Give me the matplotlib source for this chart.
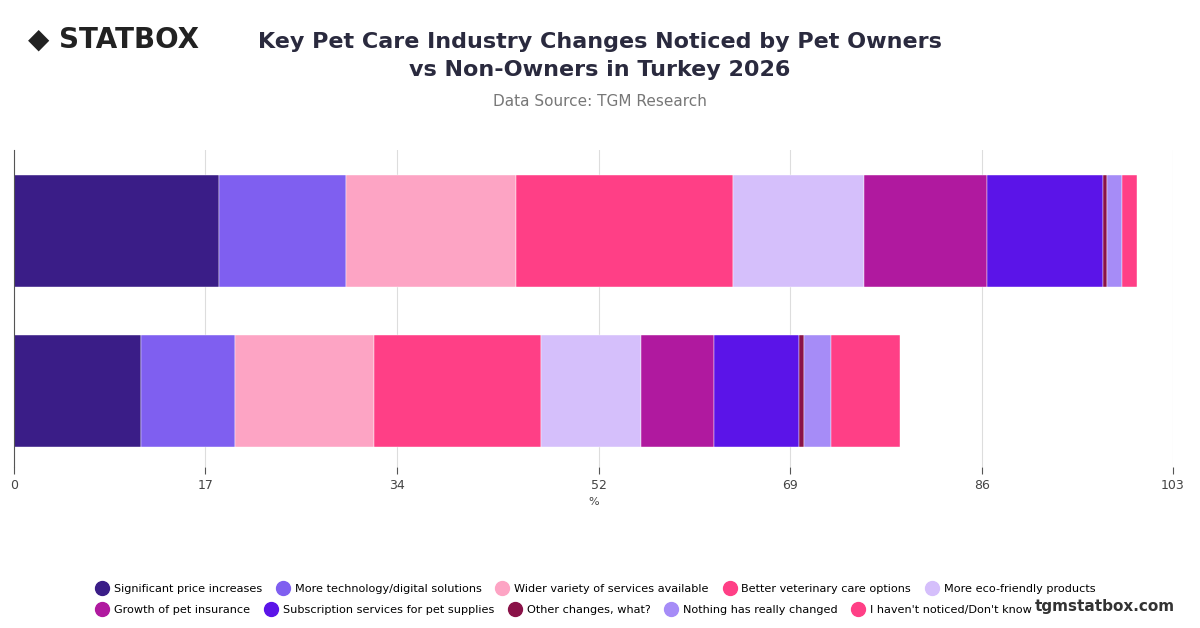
import matplotlib
matplotlib.use("Agg")
import matplotlib.pyplot as plt
from matplotlib.lines import Line2D

groups = ["Pet Owners", "Non-Owners"]
categories = ["Significant price increases", "More technology/digital solutions",
              "Wider variety of services available", "Better veterinary care options",
              "More eco-friendly products", "Growth of pet insurance",
              "Subscription services for pet supplies", "Other changes, what?",
              "Nothing has really changed", "I haven't noticed/Don't know"]
owners = [18.2, 11.3, 15.1, 19.3, 11.6, 11.0, 10.3, 0.3, 1.4, 1.3]
non_owners = [11.3, 8.3, 12.4, 14.8, 8.9, 6.5, 7.6, 0.4, 2.4, 6.1]
colors = ["#3a1d87", "#7f5ff0", "#fda4c4", "#ff3f86", "#d5bffb",
          "#b0199f", "#5b14e8", "#8a1248", "#a68cf7", "#ff3f86"]
ticks = [0, 17, 34, 52, 69, 86, 103]

fig = plt.figure(figsize=(12, 6.28), dpi=100)
ax = fig.add_axes([14/1200, 1-467/628, (1173-14)/1200, (467-150)/628])
ypos = [1, 0]
for y, vals in zip(ypos, [owners, non_owners]):
    left = 0
    for v, c in zip(vals, colors):
        ax.barh(y, v, left=left, height=0.7, color=c, edgecolor="white", linewidth=0.3)
        left += v
ax.set_xlim(0, 103)
ax.set_ylim(-0.475, 1.506)
ax.set_xticks(ticks)
ax.set_xticklabels([str(t) for t in ticks], fontsize=9, color="#444444")
ax.set_yticks([])
ax.grid(axis="x", color="#dddddd", linewidth=0.8)
ax.set_axisbelow(True)
for s in ["top", "right", "bottom"]:
    ax.spines[s].set_visible(False)
ax.spines["left"].set_color("#555555")
ax.tick_params(axis="x", length=5, color="#555555")
ax.set_xlabel("%", fontsize=8, color="#444444")

fig.text(0.5, 1-56/628, "Key Pet Care Industry Changes Noticed by Pet Owners\nvs Non-Owners in Turkey 2026",
         ha="center", va="center", fontsize=16, fontweight="bold", color="#2a2a3e", linespacing=1.45)
fig.text(0.5, 1-101/628, "Data Source: TGM Research", ha="center", va="center", fontsize=11, color="#777777")
fig.text(28/1200, 1-40/628, "◆ STATBOX", ha="left", va="center", fontsize=20, fontweight="bold", color="#222222")
fig.text(1175/1200, 1-606/628, "tgmstatbox.com", ha="right", va="center", fontsize=11, fontweight="bold", color="#333333")

def row(idx, ycenter):
    handles = [Line2D([], [], marker="o", linestyle="", markersize=10, markerfacecolor=colors[i],
                      markeredgecolor=colors[i]) for i in idx]
    lg = fig.legend(handles, [categories[i] for i in idx], loc="center left", bbox_to_anchor=(88/1200, 1-ycenter/628),
                    ncol=5, frameon=False, fontsize=8.1, handletextpad=0.3, columnspacing=1.1,
                    handlelength=1.5, borderpad=0)
    return lg
l1 = row(range(0, 5), 589)
l2 = row(range(5, 10), 610)
fig.savefig("out.png", dpi=100)
